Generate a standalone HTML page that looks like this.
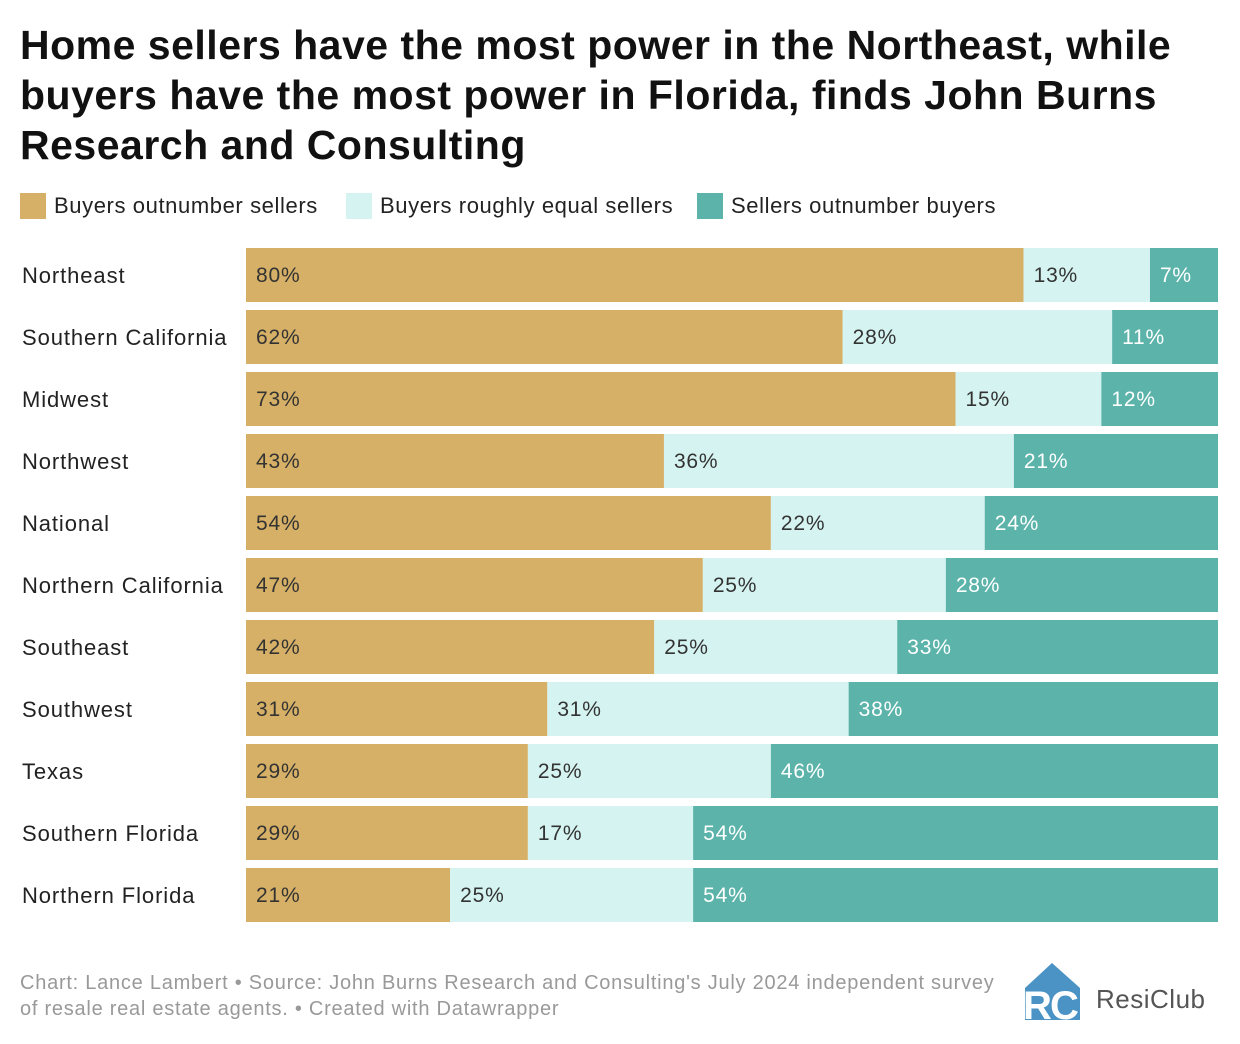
<!DOCTYPE html>
<html><head><meta charset="utf-8"><style>
body{margin:0;background:#fff;font-family:"Liberation Sans",sans-serif;}
#wrap{position:relative;width:1240px;height:1044px;overflow:hidden;}
h1{position:absolute;left:20px;top:20px;margin:0;font-size:41px;line-height:50px;font-weight:bold;color:#111;letter-spacing:0.5px;width:1220px;white-space:nowrap;}
.leg{position:absolute;top:193px;font-size:22px;color:#222;display:flex;align-items:center;letter-spacing:0.6px;}
.leg span.sw{width:26px;height:26px;display:inline-block;margin-right:8px;}
.foot{position:absolute;left:20px;top:970px;font-size:20px;line-height:26px;color:#999;letter-spacing:0.75px;white-space:nowrap;}
</style></head><body>
<div id="wrap">
<h1>Home sellers have the most power in the Northeast, while<br>buyers have the most power in Florida, finds John Burns<br>Research and Consulting</h1>
<div class="leg" style="left:20px"><span class="sw" style="background:#d6b066"></span>Buyers outnumber sellers</div>
<div class="leg" style="left:346px"><span class="sw" style="background:#d5f4f1"></span>Buyers roughly equal sellers</div>
<div class="leg" style="left:697px"><span class="sw" style="background:#5bb3aa"></span>Sellers outnumber buyers</div>
<svg id="plot" width="1240" height="1044" style="position:absolute;left:0;top:0"></svg>
<div class="foot">Chart: Lance Lambert • Source: John Burns Research and Consulting's July 2024 independent survey<br>of resale real estate agents. • Created with Datawrapper</div>
<svg style="position:absolute;left:1020px;top:960px" width="70" height="64">
<polygon points="5,28 32,3 60,28 60,60 5,60" fill="#4a93c4"/>
<text x="3" y="59" font-size="40" font-weight="bold" fill="#fff" font-family="Liberation Sans">R</text>
<text x="30" y="59" font-size="40" font-weight="bold" fill="#fff" font-family="Liberation Sans">C</text>
</svg>
<div style="position:absolute;left:1096px;top:984px;font-size:26px;color:#555;letter-spacing:0.5px">ResiClub</div>
</div>
<script>
const regions=["Northeast","Southern California","Midwest","Northwest","National","Northern California","Southeast","Southwest","Texas","Southern Florida","Northern Florida"];
const buyersOut=[80,62,73,43,54,47,42,31,29,29,21];
const equal=[13,28,15,36,22,25,25,31,25,17,25];
const sellersOut=[7,11,12,21,24,28,33,38,46,54,54];
const svg=document.getElementById('plot');const NS='http://www.w3.org/2000/svg';
const x0=246,w=972,top0=248,step=62,bh=54;
const xs=v=>x0+v/100*w;
const series=[[buyersOut,'#d6b066','#333','buyers-outnumber'],[equal,'#d5f4f1','#333','roughly-equal'],[sellersOut,'#5bb3aa','#fff','sellers-outnumber']];
regions.forEach((r,i)=>{
 const y=top0+i*step;
 const t=document.createElementNS(NS,'text');
 t.setAttribute('x',22);t.setAttribute('y',y+bh/2+8);t.setAttribute('font-size','22');t.setAttribute('fill','#222');t.setAttribute('letter-spacing','0.9');
 t.textContent=r;
 
 
 svg.appendChild(t);
 const tot=buyersOut[i]+equal[i]+sellersOut[i];let c=0;
 series.forEach(s=>{
  const v=s[0][i]/tot*100;
  const rc=document.createElementNS(NS,'rect');
  rc.setAttribute('x',xs(c));rc.setAttribute('y',y);rc.setAttribute('width',xs(c+v)-xs(c));rc.setAttribute('height',bh);rc.setAttribute('fill',s[1]);
  
  
  svg.appendChild(rc);
  const l=document.createElementNS(NS,'text');
  l.setAttribute('x',xs(c)+10);l.setAttribute('y',y+bh/2+7);l.setAttribute('font-size','21');l.setAttribute('fill',s[2]);l.setAttribute('letter-spacing','0.8');
  l.textContent=s[0][i]+'%';
  
  
  svg.appendChild(l);
  c+=v;
 });
});
</script>
</body></html>
